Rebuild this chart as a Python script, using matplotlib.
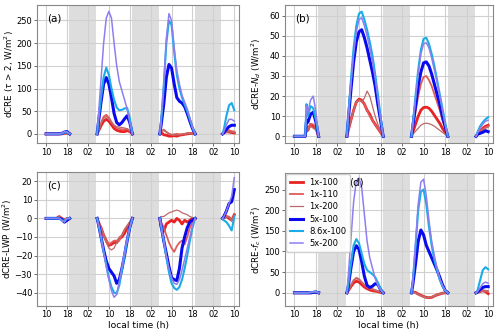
import numpy as np
import matplotlib
matplotlib.use('Agg')
import matplotlib.pyplot as plt

# local time (h) of each sample, one list per daylight segment
t1 = [10, 11, 12, 13, 14, 14.5, 15, 16, 17, 18, 19]
t2 = [29.5, 30, 31, 32, 33, 34, 35, 36, 37, 38, 39, 40, 41, 42, 43]
t3 = [53.5, 54, 55, 56, 57, 58, 59, 60, 61, 62, 63, 64, 65, 66, 67]
t4 = [77.5, 78, 79, 80, 81, 82]

nights = [(18.9, 29.1), (42.9, 53.1), (66.9, 77.0)]
tick_pos = [10, 18, 26, 34, 42, 50, 58, 66, 74, 82]
tick_lab = ['10', '18', '02', '10', '18', '02', '10', '18', '02', '10']

names = ['1x-100', '1x-110', '1x-200', '5x-100', '8.6x-100', '5x-200']
colors = ['#e82222', '#e25a5a', '#bb6b6b', '#0a0af0', '#1aace6', '#8c7ff0']
widths = [2.0, 1.3, 0.9, 2.2, 1.5, 1.1]

# (a) dCRE (tau > 2)
a_1x100 = [[0, 0, 0, 0, 0, 0, 0, 0, 1, 2, 0],
           [0, 6, 18, 28, 32, 28, 20, 12, 8, 6, 5, 5, 7, 5, 0],
           [0, 3, -2, -3, -5, -5, -4, -5, -3, -2, -1, 0, 1, 1, 0],
           [0, 2, 5, 4, 3, 2]]
a_1x110 = [[0, 0, 0, 0, 0, 0, 0, 0, 1, 2, 0],
           [0, 8, 24, 38, 42, 36, 26, 18, 13, 11, 10, 10, 11, 7, 0],
           [0, 5, 8, 4, 0, -2, -1, 0, -1, -1, 0, 1, 2, 1, 0],
           [0, 3, 7, 8, 6, 5]]
a_1x200 = [[0, 0, 0, 0, 0, 0, 0, 0, 1, 1, 0],
           [0, 7, 22, 34, 38, 33, 25, 19, 16, 15, 14, 13, 11, 7, 0],
           [0, 6, 10, 5, 1, -2, -3, -2, -2, -1, 0, 1, 2, 1, 0],
           [0, 1, 3, 5, 4, 3]]
a_5x100 = [[0, 0, 0, 0, 0, 0, 0, 1, 4, 5, 0],
           [0, 25, 70, 110, 124, 110, 80, 45, 25, 20, 25, 33, 40, 25, 0],
           [0, 20, 65, 125, 153, 145, 110, 80, 72, 68, 60, 45, 28, 12, 0],
           [0, 3, 10, 16, 19, 19]]
a_86x100 = [[0, 0, 0, 0, 0, 0, 0, 1, 3, 4, 0],
            [0, 30, 80, 125, 146, 130, 100, 75, 58, 52, 53, 56, 57, 35, 0],
            [0, 28, 105, 200, 250, 240, 180, 130, 100, 80, 65, 50, 32, 14, 0],
            [0, 10, 40, 63, 68, 52]]
a_5x200 = [[0, 0, 0, 0, 0, 0, 0, 1, 5, 4, 0],
           [0, 40, 120, 200, 255, 270, 255, 200, 150, 115, 95, 75, 55, 25, 0],
           [0, 30, 110, 210, 265, 250, 190, 140, 110, 85, 70, 55, 35, 15, 0],
           [0, 5, 20, 32, 32, 28]]

# (b) dCRE-Nd
b_1x100 = [[0, 0, 0, 0, 0, 4, 3, 6, 5, 4, 0],
           [0, 3, 8, 13, 17, 18.5, 18, 16, 13, 11, 8, 6, 4, 2, 0],
           [0, 2, 6, 10, 13, 14.3, 14.5, 14, 12.5, 10.5, 8.5, 6.5, 4, 2, 0],
           [0, 1, 2.5, 4, 5, 5.5]]
b_1x110 = [[0, 0, 0, 0, 0, 5, 4, 6, 6, 4, 0],
           [0, 3, 8, 13, 17, 18, 17.5, 16, 13, 10, 8, 6, 4, 2, 0],
           [0, 4, 12, 20, 26, 29.5, 30, 28, 25, 21, 17, 13, 8, 4, 0],
           [0, 1, 2.5, 3.5, 4.5, 5]]
b_1x200 = [[0, 0, 0, 0, 0, 3, 3, 5, 4, 3, 0],
           [0, 3, 8, 13, 17, 18, 17, 19, 22.5, 20, 15, 10, 6, 3, 0],
           [0, 1, 2.5, 4, 5.5, 6.3, 6.5, 6.3, 5.8, 5, 4, 3, 2, 1, 0],
           [0, 1, 2, 3, 4, 4.5]]
b_5x100 = [[0, 0, 0, 0, 0, 8, 7, 11, 12, 7, 0],
           [0, 8, 23, 37, 47, 52, 53, 49, 44, 38, 32, 25, 16, 8, 0],
           [0, 5, 15, 25, 32, 36.5, 37, 35, 31, 26, 21, 16, 10, 5, 0],
           [0, 1, 1.5, 2, 2.8, 2.3]]
b_86x100 = [[0, 0, 0, 0, 0, 16, 10, 15, 14, 8, 0],
            [0, 10, 28, 44, 55, 61, 62, 58, 53, 47, 40, 31, 21, 10, 0],
            [0, 6, 20, 33, 43, 48.5, 49, 46, 41, 35, 28, 21, 14, 7, 0],
            [0, 2, 5, 7, 8.5, 9.5]]
b_5x200 = [[0, 0, 0, 0, 0, 15, 12, 18, 20, 12, 0],
           [0, 9, 26, 41, 52, 58, 59, 55, 50, 44, 37, 29, 19, 9, 0],
           [0, 6, 19, 31, 41, 46, 46.5, 44, 39, 33, 27, 20, 13, 6, 0],
           [0, 1.5, 4, 6, 7.5, 8]]

# (c) dCRE-LWP
c_1x100 = [[0, 0, 0, 0, 0, 0.5, 1, 0, -1, 0, 0],
           [0, -2, -5, -9, -12, -14.5, -14, -13, -13, -11, -10, -8, -5, -3, 0],
           [0, -5, -7, -3, -2, -1, -2, 0, -1, -3, -1, -2, -1, 0, 0],
           [0, 0.5, 1, 0, -1, 2]]
c_1x110 = [[0, 0, 0, 0, 0, 0.5, 1, 0, -1, 0, 0],
           [0, -2, -5, -9, -12, -14, -13, -12, -12, -12, -9, -6, -4, -2, 0],
           [0, -2, -5, -9, -13, -16, -18, -15, -13, -12, -14, -10, -5, -2, 0],
           [0, 0.5, 1, 1, -1, 1.5]]
c_1x200 = [[0, 0, 0, 0, 0, 0.5, 1, 0, -1, 0, 0],
           [0, -2, -5, -9, -13, -16, -17, -16, -13, -10, -9, -6, -4, -2, 0],
           [0, 1, 1, 2, 3, 3.5, 4, 4.5, 4, 3, 2.5, 2, 1, 0.5, 0],
           [0, 0, 0.5, 1, -1.5, 2]]
c_5x100 = [[0, 0, 0, 0, 0, 0, 0, -0.5, -2, -1, 0],
           [0, -3, -10, -17, -23, -27, -29, -31, -35, -33, -27, -20, -12, -5, 0],
           [0, -4, -12, -19, -26, -32, -33, -33.5, -27, -16, -10, -5, -2, -1, 0],
           [0, 1, 4, 8, 9, 15.5]]
c_86x100 = [[0, 0, 0, 0, 0, 0, 0, -1, -1.5, 0, 0],
            [0, -3, -10, -18, -25, -32, -37, -40, -40.5, -36, -28, -20, -12, -5, 0],
            [0, -4, -12, -21, -29, -35, -37.5, -38.5, -37, -33, -27, -20, -12, -5, 0],
            [0, -1, -2, -4, -6.5, 1]]
c_5x200 = [[0, 0, 0, 0, 0, 0, 0, -1, -2, 0, 0],
           [0, -3, -10, -18, -26, -33, -39, -42.5, -41, -34, -26, -18, -11, -5, 0],
           [0, -4, -12, -20, -27, -32, -35, -35.5, -33, -28, -22, -16, -10, -4, 0],
           [0, 1, 4, 8, 12, 22]]

# (d) dCRE-fc
d_1x100 = [[0, 0, 0, 0, 0, 0, 0, 0, 1, 1, 0],
           [0, 5, 15, 24, 28, 26, 20, 14, 10, 7, 5, 4, 3, 1, 0],
           [0, 2, 1, -3, -6, -9, -11, -12, -11, -8, -5, -3, -1, 0, 0],
           [0, 1, 3, 5, 3, -2]]
d_1x110 = [[0, 0, 0, 0, 0, 0, 0, 0, 1, 1, 0],
           [0, 6, 18, 30, 35, 32, 25, 18, 13, 10, 8, 6, 4, 2, 0],
           [0, 3, 0, -4, -7, -10, -12, -12, -10, -8, -5, -3, -1, 0, 0],
           [0, 1, 4, 6, 4, 2]]
d_1x200 = [[0, 0, 0, 0, 0, 0, 0, 0, 1, 1, 0],
           [0, 6, 19, 31, 37, 34, 27, 20, 15, 12, 10, 7, 5, 2, 0],
           [0, 2, -1, -4, -7, -9, -11, -11, -10, -7, -4, -2, -1, 0, 0],
           [0, 1, 3, 4, 6, 5]]
d_5x100 = [[0, 0, 0, 0, 0, 0, 0, 0, 1, 2, 0],
           [0, 15, 60, 100, 114, 105, 75, 40, 18, 13, 16, 22, 20, 8, 0],
           [0, 20, 70, 125, 152, 140, 115, 100, 85, 70, 55, 38, 20, 6, 0],
           [0, 2, 8, 13, 15, 15]]
d_86x100 = [[0, 0, 0, 0, 0, 0, 0, 1, 2, 3, 0],
            [0, 20, 70, 115, 130, 120, 95, 70, 55, 50, 45, 38, 25, 10, 0],
            [0, 28, 110, 200, 245, 250, 215, 160, 115, 80, 55, 32, 16, 5, 0],
            [0, 5, 30, 55, 62, 57]]
d_5x200 = [[0, 0, 0, 0, 0, 0, 0, 1, 2, 3, 0],
           [0, 40, 130, 220, 270, 278, 255, 190, 125, 85, 60, 35, 18, 7, 0],
           [0, 30, 120, 215, 268, 275, 235, 175, 125, 90, 60, 35, 18, 6, 0],
           [0, 3, 12, 22, 26, 23]]


def join(segs):
    out = []
    for i, s in enumerate(segs):
        if i > 0:
            out.append(np.nan)
        out.extend(s)
    return np.array(out, dtype=float)


x = join([t1, t2, t3, t4])

panels = [
    ('(a)', [a_1x100, a_1x110, a_1x200, a_5x100, a_86x100, a_5x200],
     r'dCRE ($\tau$ > 2, W/m$^2$)', (-20, 284), [0, 50, 100, 150, 200, 250]),
    ('(b)', [b_1x100, b_1x110, b_1x200, b_5x100, b_86x100, b_5x200],
     r'dCRE-$N_d$ (W/m$^2$)', (-3.3, 65.3), [0, 10, 20, 30, 40, 50, 60]),
    ('(c)', [c_1x100, c_1x110, c_1x200, c_5x100, c_86x100, c_5x200],
     r'dCRE-LWP (W/m$^2$)', (-47, 25), [-40, -30, -20, -10, 0, 10, 20]),
    ('(d)', [d_1x100, d_1x110, d_1x200, d_5x100, d_86x100, d_5x200],
     r'dCRE-$f_c$ (W/m$^2$)', (-31, 290), [0, 50, 100, 150, 200, 250]),
]

boxes = [[0.074, 0.572, 0.404, 0.413],
         [0.570, 0.572, 0.416, 0.413],
         [0.074, 0.085, 0.404, 0.400],
         [0.570, 0.085, 0.416, 0.397]]
label_x = [-0.105, -0.105, -0.115, -0.105]

fig = plt.figure(figsize=(5, 3.34), dpi=100)

for k, (tag, series, ylab, ylim, yticks) in enumerate(panels):
    ax = fig.add_axes(boxes[k])
    ax.set_axisbelow(True)
    for n0, n1 in nights:
        ax.axvspan(n0, n1, color='#dddddd', lw=0, zorder=0.2)
    for s, name, c, w in zip(series, names, colors, widths):
        ax.plot(x, join(s), color=c, lw=w, label=name)
    ax.set_xlim(6.5, 83.8)
    ax.set_ylim(*ylim)
    ax.set_xticks(tick_pos)
    ax.set_xticklabels(tick_lab)
    ax.set_yticks(yticks)
    ax.grid(True, color='#d0d0d0', lw=0.8)
    ax.tick_params(labelsize=6.0, length=2.5, width=0.6, pad=1, color='#555555')
    for sp in ax.spines.values():
        sp.set_color('#888888')
        sp.set_linewidth(0.8)
    ax.set_ylabel(ylab, fontsize=6.3)
    ax.yaxis.set_label_coords(label_x[k], 0.5)
    if k >= 2:
        ax.set_xlabel('local time (h)', fontsize=6.6, labelpad=1)
    if k == 3:
        ax.text(0.31, 0.93, tag, transform=ax.transAxes, fontsize=7.5, va='center')
        ax.legend(loc='upper left', fontsize=6, handlelength=1.6,
                  borderpad=0.4, labelspacing=0.4, handletextpad=0.8,
                  borderaxespad=0.15, framealpha=0.9)
    else:
        ax.text(0.05, 0.9, tag, transform=ax.transAxes, fontsize=7.5, va='center')

fig.savefig('out.png', dpi=100)
plt.close(fig)
